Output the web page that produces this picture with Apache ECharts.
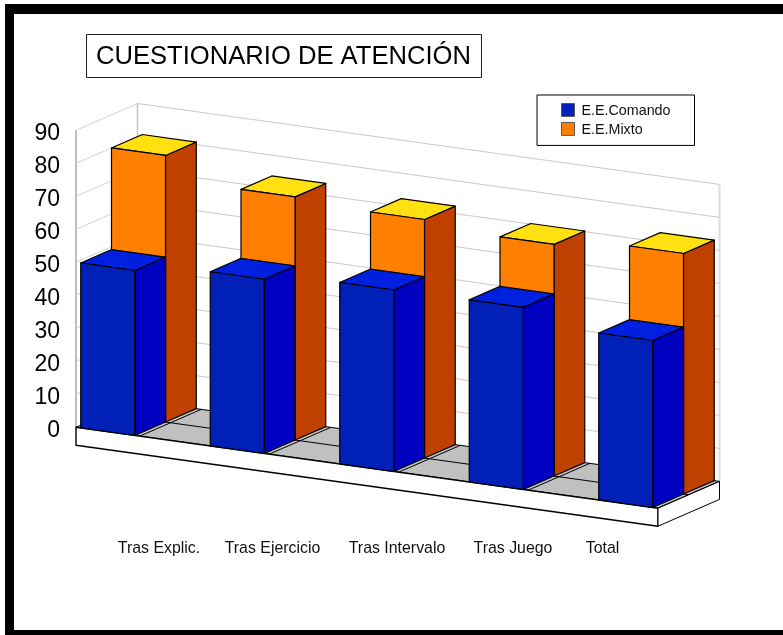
<!DOCTYPE html>
<html>
<head>
<meta charset="utf-8">
<style>html,body{margin:0;padding:0;background:#fff}#c{width:783px;height:635px}</style>
<script src="https://cdn.jsdelivr.net/npm/echarts@6/dist/echarts.min.js"></script>
</head>
<body>
<div id="c"></div>
<script>
const categories = ['Tras Explic.', 'Tras Ejercicio', 'Tras Intervalo', 'Tras Juego', 'Total'];
const comando = [50, 52.8, 55, 55.2, 50.6];
const mixto = [80.8, 73.7, 72.3, 70.2, 72.9];
const yTicks = [0, 10, 20, 30, 40, 50, 60, 70, 80, 90];

// layout of the oblique projection
const labelCenters = [159, 272.5, 397, 513, 602.5];
const GRID_L = 43, BAND = 129.5, GRID_W = BAND * 5;
const SLOPE = 0.139, X0 = 81, DX = 30.75, DY = 13.4;
const BAR_W = 54, PLATE_L = 76, PLATE_R = 658, PLATE_H = 18;
const STROKE = '#000';

const chart = echarts.init(document.getElementById('c'), null, { renderer: 'canvas' });

function pt(api, fx, v, d) {
  return [fx + d * DX, api.coord([0, v])[1] + SLOPE * (fx - X0) - d * DY];
}
function poly(points, fill, lw, stroke) {
  return { type: 'polygon', shape: { points },
    style: { fill, stroke: stroke || STROKE, lineWidth: lw === undefined ? 1.2 : lw, lineJoin: 'round' } };
}
function line(a, b, color, lw) {
  return { type: 'line', shape: { x1: a[0], y1: a[1], x2: b[0], y2: b[1] },
    style: { stroke: color, lineWidth: lw, fill: null } };
}

function boxItem(d, front, top, side) {
  return function (params, api) {
    const i = api.value(0), v = api.value(1);
    const l = api.coord([i, 0])[0] - BAR_W / 2, r = l + BAR_W;
    return { type: 'group', children: [
      poly([pt(api, r, 0, d), pt(api, r, 0, d + 1), pt(api, r, v, d + 1), pt(api, r, v, d)], side),
      poly([pt(api, l, v, d), pt(api, r, v, d), pt(api, r, v, d + 1), pt(api, l, v, d + 1)], top),
      poly([pt(api, l, 0, d), pt(api, r, 0, d), pt(api, r, v, d), pt(api, l, v, d)], front)
    ] };
  };
}

function wallItem(params, api) {
  const v = api.value(1);
  const c = '#c9c9c9';
  const kids = [
    line(pt(api, PLATE_L, v, 0), pt(api, PLATE_L, v, 2), '#d2d2d2', 1),
    line(pt(api, PLATE_L, v, 2), pt(api, PLATE_R, v, 2), c, 1)
  ];
  if (v === yTicks[0]) {
    const top = yTicks[yTicks.length - 1];
    kids.push(line(pt(api, PLATE_L, 0, 0), pt(api, PLATE_L, top, 0), '#bdbdbd', 2));
    kids.push(line(pt(api, PLATE_L, 0, 2), pt(api, PLATE_L, top, 2), '#c4c4c4', 1.5));
    kids.push(line(pt(api, PLATE_R, 0, 2), pt(api, PLATE_R, top, 2), '#dedede', 2));
  }
  return { type: 'group', children: kids };
}

function floorItem(params, api) {
  const a = pt(api, PLATE_L, 0, 0), b = pt(api, PLATE_R, 0, 0);
  const c = pt(api, PLATE_R, 0, 2), e = pt(api, PLATE_L, 0, 2);
  const dn = p => [p[0], p[1] + PLATE_H];
  const kids = [
    poly([a, b, c, e], '#c0c0c0', 1),
    line(pt(api, PLATE_L, 0, 1), pt(api, PLATE_R, 0, 1), STROKE, 1)
  ];
  categories.forEach((_, i) => {
    const rx = api.coord([i, 0])[0] + BAR_W / 2 + 5;
    kids.push(line(pt(api, rx, 0, 0), pt(api, rx, 0, 2), STROKE, 1));
  });
  kids.push(poly([a, b, dn(b), dn(a)], '#fff', 1.4));
  kids.push(poly([b, c, dn(c), dn(b)], '#fff', 1));
  return { type: 'group', children: kids };
}

chart.setOption({
  animation: false,
  backgroundColor: '#fff',
  textStyle: { fontFamily: 'Liberation Sans' },
  title: {
    text: 'CUESTIONARIO DE ATENCIÓN',
    left: 86, top: 34, padding: [10, 11, 8, 10],
    borderColor: '#222', borderWidth: 1, backgroundColor: '#fff',
    textStyle: { fontFamily: 'Liberation Sans', fontSize: 25.6, fontWeight: 'normal', color: '#000' }
  },
  legend: {
    data: ['E.E.Comando', 'E.E.Mixto'],
    orient: 'vertical', left: 537, top: 95,
    padding: [8, 24, 8, 24], itemWidth: 13, itemHeight: 13, itemGap: 3.4,
    icon: 'rect', selectedMode: false,
    borderColor: '#000', borderWidth: 1, backgroundColor: '#fff',
    itemStyle: { borderColor: '#555', borderWidth: 1 },
    formatter: '{t|{name}}',
    textStyle: { rich: { t: { fontFamily: 'Liberation Sans', fontSize: 14.3, color: '#111', padding: [3, 0, 0, 2] } } }
  },
  grid: { left: GRID_L, top: 131, width: GRID_W, height: 297, containLabel: false },
  xAxis: [
    { type: 'category', data: categories, position: 'bottom',
      axisLine: { show: false }, axisTick: { show: false }, axisLabel: { show: false }, splitLine: { show: false } },
    { type: 'value', min: GRID_L, max: GRID_L + GRID_W, position: 'bottom',
      axisLine: { show: false }, axisTick: { show: false }, splitLine: { show: false },
      axisLabel: { customValues: labelCenters, margin: 113, fontFamily: 'Liberation Sans', fontSize: 15.9, color: '#111',
        hideOverlap: false, showMinLabel: true, showMaxLabel: true,
        formatter: v => categories[labelCenters.indexOf(v)] } }
  ],
  yAxis: {
    type: 'value', min: 0, max: 90, interval: 10,
    axisLine: { show: false }, axisTick: { show: false }, splitLine: { show: false },
    axisLabel: { margin: -17, align: 'right', formatter: '{t|{value}}',
      rich: { t: { padding: [6, 0, 0, 0], fontFamily: 'Liberation Sans', fontSize: 23, color: '#000' } } }
  },
  series: [
    { type: 'custom', name: 'walls', silent: true, xAxisIndex: 0, z: 1, encode: { x: 0, y: 1 },
      data: yTicks.map(t => [0, t]), renderItem: wallItem },
    { type: 'custom', name: 'floor', silent: true, xAxisIndex: 0, z: 2, encode: { x: 0, y: 1 },
      data: [[0, 0]], renderItem: floorItem },
    { type: 'custom', name: 'E.E.Mixto', xAxisIndex: 0, z: 3, encode: { x: 0, y: 1 },
      itemStyle: { color: '#ff8000' },
      data: mixto.map((v, i) => [i, v]), renderItem: boxItem(1, '#ff8000', '#ffe010', '#c04000') },
    { type: 'custom', name: 'E.E.Comando', xAxisIndex: 0, z: 4, encode: { x: 0, y: 1 },
      itemStyle: { color: '#0020c0' },
      data: comando.map((v, i) => [i, v]), renderItem: boxItem(0, '#0020b8', '#0020e0', '#0000c0') }
  ],
  graphic: [
    { type: 'rect', shape: { x: 5, y: 4, width: 9, height: 631 }, style: { fill: '#000' }, silent: true },
    { type: 'rect', shape: { x: 5, y: 4, width: 778, height: 10 }, style: { fill: '#000' }, silent: true },
    { type: 'rect', shape: { x: 5, y: 630, width: 778, height: 5 }, style: { fill: '#000' }, silent: true }
  ]
});
</script>
</body>
</html>
